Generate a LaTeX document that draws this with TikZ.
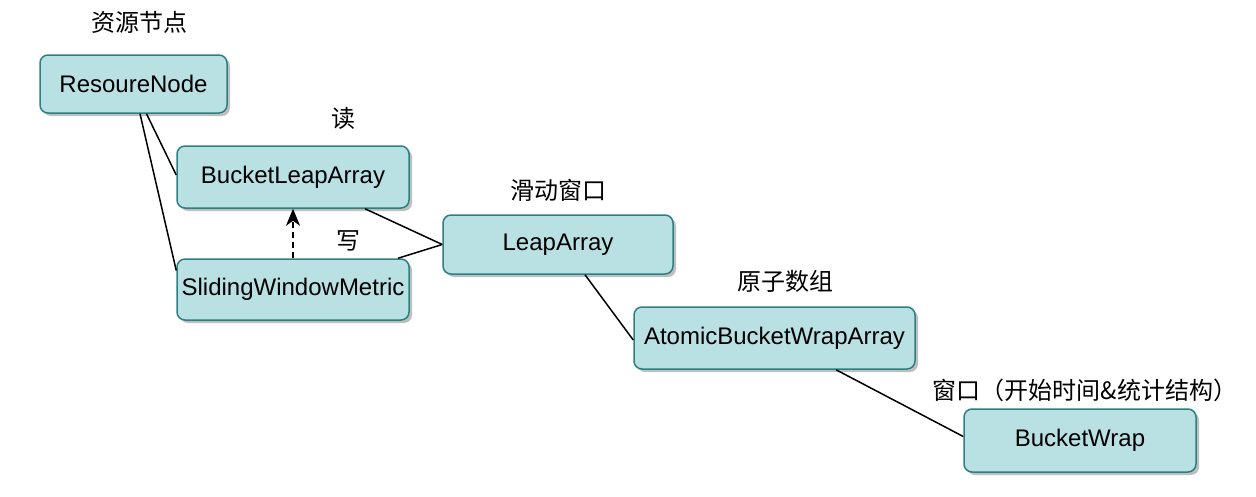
\documentclass[tikz,border=0pt]{standalone}
\usepackage{fontspec}
\setmainfont{Liberation Sans}
\newfontfamily\cjk{Noto Sans CJK SC}
\usetikzlibrary{shadows,arrows.meta}
\definecolor{boxfill}{HTML}{B9E1E3}
\definecolor{boxline}{HTML}{2E7F82}
\tikzset{
  box/.style={draw=boxline, fill=boxfill, line width=1.5pt, rounded corners=8pt,
    inner sep=0pt, font=\fontsize{24}{26}\selectfont,
    drop shadow={shadow xshift=3pt, shadow yshift=-3pt, fill=black, opacity=0.25}},
  lab/.style={font=\cjk\fontsize{24}{26}\selectfont, inner sep=0pt},
  link/.style={line width=1.5pt, black},
}
\begin{document}
\begin{tikzpicture}[x=1pt,y=-1pt]
\useasboundingbox (0,0) rectangle (1256,496);
\node[box, minimum width=187pt, minimum height=58pt] (res) at (133.5,84) {ResoureNode};
\node[box, minimum width=232pt, minimum height=62pt] (bla) at (293,177) {BucketLeapArray};
\node[box, minimum width=232pt, minimum height=61pt] (swm) at (293,289.5) {SlidingWindowMetric};
\node[box, minimum width=230pt, minimum height=59pt] (la) at (558,244.5) {LeapArray};
\node[box, minimum width=281pt, minimum height=62pt] (abwa) at (774.5,338) {AtomicBucketWrapArray};
\node[box, minimum width=232pt, minimum height=63pt] (bw) at (1080,440.5) {BucketWrap};

\node[lab] (l1) at (139,22) {资源节点};
\node[lab] (l2) at (343,118) {读};
\node[lab] (l3) at (348,241) {写};
\node[lab] (l4) at (558,190) {滑动窗口};
\node[lab] (l5) at (785,281) {原子数组};
\node[lab] (l6) at (1085,390) {窗口（开始时间\&统计结构）};

\draw[link] ([xshift=13pt]res.south) -- ([yshift=2pt]bla.west);
\draw[link] ([xshift=6.5pt]res.south) -- ([yshift=19pt]swm.west);
\draw[link] ([xshift=72pt]bla.south) -- (la.west);
\draw[link] ([xshift=105pt]swm.north) -- (la.west);
\draw[link] ([xshift=27pt]la.south) -- ([yshift=-2pt]abwa.west);
\draw[link] ([xshift=61.5pt]abwa.south) -- ([yshift=4pt]bw.west);
\draw[link, dash pattern=on 6pt off 4pt, -{Stealth[length=17pt,width=14pt,inset=5pt]}] (swm.north) -- (bla.south);
\end{tikzpicture}
\end{document}
